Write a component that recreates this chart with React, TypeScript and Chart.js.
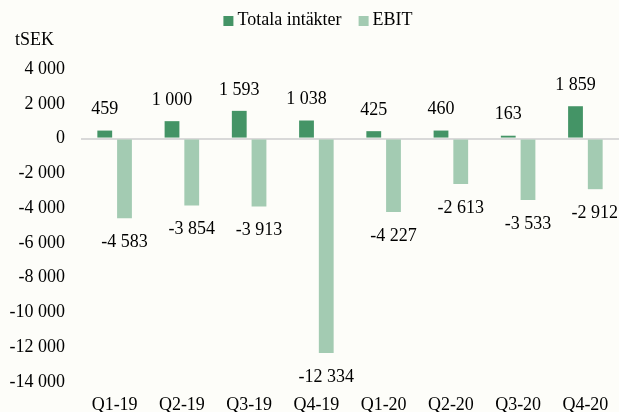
import React, { useEffect, useRef } from 'react';
import { Chart, registerables } from 'chart.js';

Chart.register(...registerables);

const categories = ['Q1-19', 'Q2-19', 'Q3-19', 'Q4-19', 'Q1-20', 'Q2-20', 'Q3-20', 'Q4-20'];
const revenue = [459, 1000, 1593, 1038, 425, 460, 163, 1859];
const ebit = [-4583, -3854, -3913, -12334, -4227, -2613, -3533, -2912];
const seriesNames = ['Totala intäkter', 'EBIT'];
const seriesColors = ['#449466', '#a3cbb2'];
const unitLabel = 'tSEK';
const yMin = -14000;
const yMax = 4000;
const yStep = 2000;

const FONT = "'Liberation Serif', 'Times New Roman', serif";
const FS = 18;

function fmt(v: number): string {
  const s = Math.abs(Math.round(v)).toString().replace(/\B(?=(\d{3})+(?!\d))/g, ' ');
  return (v < 0 ? '-' : '') + s;
}

const bgPlugin = {
  id: 'bg',
  beforeDraw(chart: any) {
    const ctx = chart.ctx;
    ctx.save();
    ctx.fillStyle = '#fdfdf9';
    ctx.fillRect(0, 0, chart.width, chart.height);
    ctx.restore();
  },
};

const headerPlugin = {
  id: 'header',
  afterDraw(chart: any) {
    const ctx = chart.ctx;
    ctx.save();
    ctx.font = `${FS}px ${FONT}`;
    ctx.fillStyle = '#000';
    ctx.textBaseline = 'middle';
    ctx.textAlign = 'left';
    ctx.fillText(unitLabel, 15, 40);
    const box = 10;
    const gapText = 4;
    const gapItem = 17;
    const widths = chart.data.datasets.map((ds: any) => ctx.measureText(ds.label).width);
    let total = 0;
    widths.forEach((w: number, i: number) => {
      total += box + gapText + w + (i < widths.length - 1 ? gapItem : 0);
    });
    let x = 318 - total / 2;
    chart.data.datasets.forEach((ds: any, i: number) => {
      ctx.fillStyle = ds.backgroundColor;
      ctx.fillRect(x, 16, box, box);
      ctx.fillStyle = '#000';
      ctx.fillText(ds.label, x + box + gapText, 20);
      x += box + gapText + widths[i] + gapItem;
    });
    ctx.restore();
  },
};

const labelPlugin = {
  id: 'barLabels',
  afterDatasetsDraw(chart: any) {
    const ctx = chart.ctx;
    ctx.save();
    ctx.font = `${FS}px ${FONT}`;
    ctx.fillStyle = '#000';
    ctx.textAlign = 'center';
    ctx.textBaseline = 'middle';
    chart.data.datasets.forEach((ds: any, i: number) => {
      const meta = chart.getDatasetMeta(i);
      meta.data.forEach((bar: any, j: number) => {
        const v = ds.data[j];
        const txt = fmt(v);
        const w = ctx.measureText(txt).width;
        let x = bar.x;
        if (x + w / 2 > chart.width - 1) x = chart.width - 1 - w / 2;
        const y = v >= 0 ? bar.y - 21 : bar.y + 24;
        ctx.fillText(txt, x, y);
      });
    });
    ctx.restore();
  },
};

export default function App() {
  const ref = useRef<HTMLCanvasElement | null>(null);

  useEffect(() => {
    document.body.style.margin = '0';
    if (!ref.current) return;
    const chart = new Chart(ref.current, {
      type: 'bar',
      data: {
        labels: categories,
        datasets: [
          {
            label: seriesNames[0],
            data: revenue,
            backgroundColor: seriesColors[0],
            categoryPercentage: 0.587,
            barPercentage: 0.75,
          },
          {
            label: seriesNames[1],
            data: ebit,
            backgroundColor: seriesColors[1],
            categoryPercentage: 0.587,
            barPercentage: 0.75,
          },
        ],
      },
      options: {
        animation: false,
        responsive: true,
        maintainAspectRatio: false,
        layout: { padding: { left: 0, right: -7, top: 69, bottom: 0 } },
        plugins: {
          tooltip: { enabled: false },
          legend: { display: false },
          title: { display: false },
        },
        scales: {
          x: {
            grid: { display: false },
            border: { display: false },
            afterFit(scale: any) {
              scale.height = 30;
            },
            ticks: {
              color: '#000',
              font: { family: FONT, size: FS },
              padding: 4,
              maxRotation: 0,
              autoSkip: false,
            },
          },
          y: {
            min: yMin,
            max: yMax,
            border: { display: false },
            afterFit(scale: any) {
              scale.width = 81;
            },
            grid: {
              drawTicks: false,
              lineWidth: 2,
              color: (c: any) => (c.tick && c.tick.value === 0 ? '#d9d9d9' : 'rgba(0,0,0,0)'),
            },
            ticks: {
              stepSize: yStep,
              color: '#000',
              padding: 16,
              font: { family: FONT, size: FS },
              callback: (v: any) => fmt(Number(v)),
            },
          },
        },
      },
      plugins: [bgPlugin, labelPlugin, headerPlugin],
    });
    return () => chart.destroy();
  }, []);

  return (
    <div style={{ position: 'relative', width: 619, height: 412 }}>
      <canvas ref={ref} />
    </div>
  );
}
